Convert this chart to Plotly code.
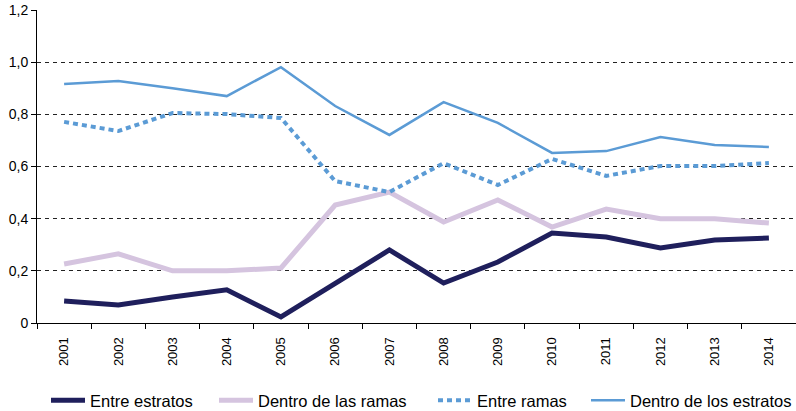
import plotly.graph_objects as go

years = [str(y) for y in range(2001, 2015)]
entre_estratos = [0.084, 0.069, 0.100, 0.127, 0.023, 0.153, 0.280, 0.153, 0.234, 0.345, 0.330, 0.288, 0.318, 0.326]
dentro_ramas = [0.226, 0.265, 0.200, 0.200, 0.211, 0.452, 0.502, 0.387, 0.472, 0.368, 0.437, 0.400, 0.400, 0.383]
entre_ramas = [0.771, 0.736, 0.805, 0.801, 0.786, 0.544, 0.502, 0.613, 0.529, 0.629, 0.564, 0.602, 0.602, 0.613]
dentro_estratos = [0.916, 0.928, 0.900, 0.870, 0.981, 0.832, 0.721, 0.847, 0.767, 0.652, 0.659, 0.713, 0.682, 0.675]

ytick_vals = [0, 0.2, 0.4, 0.6, 0.8, 1.0, 1.2]
ytick_text = ["0", "0,2", "0,4", "0,6", "0,8", "1,0", "1,2"]

W, H = 796, 411
ML, MR, MT, MB = 37, 0, 10, 88
PW = W - ML - MR

def px_to_paper_x(px):
    return (px - ML) / PW

fig = go.Figure()
fig.add_trace(go.Scatter(x=years, y=entre_estratos, mode="lines", name="Entre estratos",
                         line=dict(color="#1f1f5c", width=5), legend="legend"))
fig.add_trace(go.Scatter(x=years, y=dentro_ramas, mode="lines", name="Dentro de las ramas",
                         line=dict(color="#d5c4df", width=5), legend="legend2"))
fig.add_trace(go.Scatter(x=years, y=entre_ramas, mode="lines", name="Entre ramas",
                         line=dict(color="#5b9bd5", width=4, dash="5px,4px"), legend="legend3"))
fig.add_trace(go.Scatter(x=years, y=dentro_estratos, mode="lines", name="Dentro de los estratos",
                         line=dict(color="#5b9bd5", width=2.5), legend="legend4"))

leg_common = dict(orientation="h", xanchor="left", y=-0.248, yanchor="middle",
                  font=dict(size=16.5), itemwidth=34, bgcolor="rgba(0,0,0,0)", borderwidth=0)
leg_px = [46, 214, 433, 586]

fig.update_layout(
    width=W, height=H,
    margin=dict(l=ML, r=MR, t=MT, b=MB, autoexpand=False),
    paper_bgcolor="white", plot_bgcolor="white",
    font=dict(family="Liberation Sans, Arial, sans-serif", size=14, color="#000000"),
    showlegend=True,
    legend=dict(x=px_to_paper_x(leg_px[0]), **leg_common),
    legend2=dict(x=px_to_paper_x(leg_px[1]), **leg_common),
    legend3=dict(x=px_to_paper_x(leg_px[2]), **leg_common),
    legend4=dict(x=px_to_paper_x(leg_px[3]), **leg_common),
)
fig.update_xaxes(type="category", range=[-0.5, 13.5], showline=True, linecolor="black", linewidth=1,
                 ticks="outside", tickson="boundaries", ticklen=5, tickcolor="black",
                 tickangle=-90, showgrid=False, tickfont=dict(size=13), ticklabelstandoff=8,
                 automargin=False)
fig.update_yaxes(range=[0, 1.2], tickvals=ytick_vals, ticktext=ytick_text, showline=True,
                 linecolor="black", linewidth=1, ticks="outside", ticklen=5, tickcolor="black",
                 showgrid=True, gridcolor="#222222", gridwidth=1, griddash="4px,4px",
                 zeroline=False, tickfont=dict(size=14), automargin=False)

fig.write_html("out.html", config={"displayModeBar": False},
               post_script="document.body.style.margin='0';document.body.style.padding='0';")
